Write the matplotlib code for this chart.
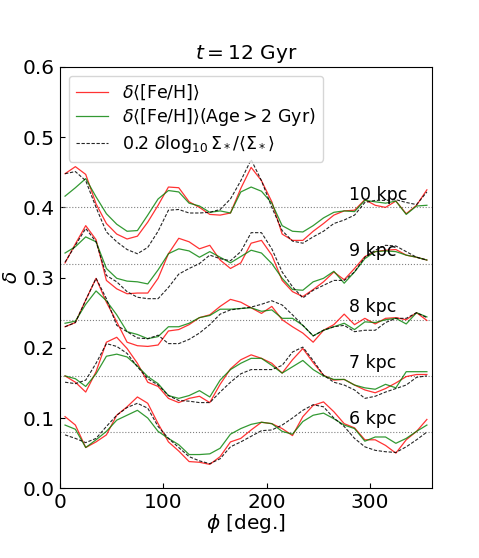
"""Azimuthal metallicity / surface density variations at several radii, t = 12 Gyr"""
import matplotlib
matplotlib.use('Agg')
import matplotlib.pyplot as plt
import numpy as np

# azimuth bin centres (deg.)
phi = np.arange(5, 360, 10)

# radii and their vertical offsets in the plot
radii = ['6 kpc', '7 kpc', '8 kpc', '9 kpc', '10 kpc']
offsets = [0.08, 0.16, 0.24, 0.32, 0.40]

# delta <[Fe/H]>, all stars (already offset)
feh_all = {
    '6 kpc': [0.102, 0.090, 0.058, 0.066, 0.076, 0.104, 0.116, 0.130, 0.121, 0.092, 0.066, 0.053,
              0.038, 0.037, 0.034, 0.045, 0.066, 0.071, 0.083, 0.094, 0.092, 0.085, 0.075, 0.102,
              0.118, 0.123, 0.109, 0.092, 0.086, 0.069, 0.069, 0.061, 0.050, 0.069, 0.081, 0.098],
    '7 kpc': [0.160, 0.151, 0.137, 0.166, 0.208, 0.215, 0.199, 0.178, 0.151, 0.145, 0.128, 0.122,
              0.128, 0.131, 0.122, 0.148, 0.170, 0.183, 0.190, 0.185, 0.178, 0.164, 0.183, 0.199,
              0.179, 0.161, 0.154, 0.155, 0.147, 0.140, 0.136, 0.142, 0.150, 0.159, 0.162, 0.162],
    '8 kpc': [0.230, 0.236, 0.268, 0.299, 0.265, 0.237, 0.208, 0.203, 0.202, 0.204, 0.224, 0.226,
              0.233, 0.243, 0.247, 0.259, 0.269, 0.265, 0.257, 0.249, 0.259, 0.240, 0.230, 0.221,
              0.208, 0.225, 0.233, 0.248, 0.233, 0.242, 0.234, 0.242, 0.243, 0.240, 0.250, 0.239],
    '9 kpc': [0.321, 0.348, 0.374, 0.354, 0.296, 0.284, 0.277, 0.278, 0.278, 0.299, 0.334, 0.356,
              0.351, 0.341, 0.346, 0.325, 0.313, 0.321, 0.349, 0.353, 0.332, 0.296, 0.280, 0.273,
              0.283, 0.294, 0.308, 0.297, 0.313, 0.330, 0.337, 0.339, 0.340, 0.332, 0.329, 0.325],
    '10 kpc': [0.448, 0.458, 0.447, 0.405, 0.377, 0.362, 0.355, 0.359, 0.379, 0.403, 0.429, 0.428,
               0.408, 0.400, 0.390, 0.389, 0.392, 0.427, 0.457, 0.438, 0.408, 0.362, 0.353, 0.353,
               0.366, 0.377, 0.389, 0.395, 0.396, 0.411, 0.403, 0.400, 0.409, 0.391, 0.403, 0.425],
}

# delta <[Fe/H]>, stars older than 2 Gyr
feh_old = {
    '6 kpc': [0.090, 0.084, 0.058, 0.069, 0.081, 0.097, 0.104, 0.111, 0.100, 0.081, 0.071, 0.062,
              0.048, 0.048, 0.049, 0.057, 0.077, 0.085, 0.091, 0.094, 0.092, 0.081, 0.077, 0.095,
              0.104, 0.107, 0.099, 0.090, 0.085, 0.067, 0.073, 0.073, 0.064, 0.071, 0.081, 0.090],
    '7 kpc': [0.160, 0.156, 0.145, 0.163, 0.188, 0.191, 0.187, 0.174, 0.159, 0.149, 0.132, 0.128,
              0.132, 0.139, 0.130, 0.154, 0.169, 0.178, 0.185, 0.185, 0.175, 0.164, 0.173, 0.182,
              0.169, 0.160, 0.155, 0.155, 0.147, 0.143, 0.141, 0.148, 0.143, 0.166, 0.166, 0.166],
    '8 kpc': [0.235, 0.238, 0.262, 0.281, 0.267, 0.247, 0.223, 0.219, 0.213, 0.216, 0.230, 0.230,
              0.235, 0.243, 0.246, 0.255, 0.255, 0.256, 0.257, 0.252, 0.254, 0.242, 0.242, 0.232,
              0.217, 0.225, 0.230, 0.235, 0.226, 0.237, 0.236, 0.240, 0.242, 0.234, 0.250, 0.244],
    '9 kpc': [0.335, 0.344, 0.358, 0.351, 0.313, 0.299, 0.295, 0.294, 0.291, 0.311, 0.334, 0.341,
              0.338, 0.329, 0.337, 0.329, 0.321, 0.330, 0.339, 0.335, 0.320, 0.299, 0.283, 0.282,
              0.294, 0.299, 0.309, 0.292, 0.308, 0.327, 0.337, 0.338, 0.337, 0.332, 0.329, 0.325],
    '10 kpc': [0.416, 0.428, 0.441, 0.415, 0.391, 0.376, 0.366, 0.367, 0.389, 0.412, 0.424, 0.422,
               0.406, 0.402, 0.393, 0.395, 0.392, 0.422, 0.429, 0.423, 0.406, 0.374, 0.366, 0.365,
               0.374, 0.385, 0.393, 0.395, 0.394, 0.410, 0.408, 0.406, 0.409, 0.390, 0.402, 0.403],
}

# 0.2 * delta log10 Sigma_* / <Sigma_*>
sigma = {
    '6 kpc': [0.076, 0.071, 0.065, 0.071, 0.088, 0.104, 0.115, 0.121, 0.114, 0.088, 0.071, 0.058,
              0.045, 0.039, 0.035, 0.042, 0.059, 0.066, 0.074, 0.082, 0.083, 0.090, 0.100, 0.111,
              0.119, 0.116, 0.100, 0.088, 0.071, 0.059, 0.054, 0.052, 0.051, 0.059, 0.069, 0.080],
    '7 kpc': [0.151, 0.149, 0.154, 0.178, 0.206, 0.202, 0.192, 0.173, 0.156, 0.147, 0.132, 0.125,
              0.124, 0.122, 0.122, 0.137, 0.151, 0.163, 0.169, 0.169, 0.169, 0.175, 0.194, 0.201,
              0.182, 0.161, 0.151, 0.147, 0.140, 0.128, 0.131, 0.137, 0.142, 0.147, 0.158, 0.160],
    '8 kpc': [0.230, 0.236, 0.268, 0.299, 0.270, 0.232, 0.223, 0.214, 0.213, 0.218, 0.206, 0.206,
              0.212, 0.221, 0.233, 0.248, 0.254, 0.256, 0.258, 0.262, 0.267, 0.261, 0.247, 0.232,
              0.217, 0.225, 0.230, 0.232, 0.223, 0.225, 0.225, 0.236, 0.242, 0.242, 0.250, 0.243],
    '9 kpc': [0.322, 0.346, 0.370, 0.351, 0.303, 0.294, 0.280, 0.272, 0.270, 0.270, 0.286, 0.305,
              0.313, 0.320, 0.332, 0.327, 0.324, 0.337, 0.364, 0.364, 0.341, 0.308, 0.287, 0.271,
              0.282, 0.289, 0.296, 0.296, 0.308, 0.329, 0.339, 0.346, 0.345, 0.337, 0.329, 0.325],
    '10 kpc': [0.448, 0.451, 0.438, 0.400, 0.365, 0.351, 0.340, 0.334, 0.343, 0.366, 0.396, 0.397,
               0.392, 0.392, 0.393, 0.397, 0.412, 0.438, 0.468, 0.438, 0.400, 0.367, 0.352, 0.349,
               0.358, 0.366, 0.377, 0.382, 0.389, 0.407, 0.410, 0.410, 0.411, 0.407, 0.404, 0.422],
}

fig = plt.figure(figsize=(4.79, 5.58), dpi=100)
ax = fig.add_axes([0.125, 0.125, 0.777, 0.755])

for k, (r, off) in enumerate(zip(radii, offsets)):
    ax.axhline(off, color='gray', linestyle=':', linewidth=0.8)
    ax.plot(phi, feh_all[r], color='red', alpha=0.8, linewidth=0.9,
            label=r'$\delta\langle[{\rm Fe/H}]\rangle$' if k == 0 else None)
    ax.plot(phi, feh_old[r], color='green', alpha=0.8, linewidth=0.9,
            label=r'$\delta\langle[{\rm Fe/H}]\rangle({\rm Age}>2\ {\rm Gyr})$' if k == 0 else None)
    ax.plot(phi, sigma[r], color='k', linestyle='--', linewidth=0.8, dashes=(3, 1.5), alpha=0.85,
            label=r'$0.2\ \delta\log_{10}\Sigma_*/\langle\Sigma_*\rangle$' if k == 0 else None)
    ax.text(280, off + 0.011, r, fontsize=12.5)

ax.set_xlim(0, 360)
ax.set_ylim(0.0, 0.6)
ax.set_xticks([0, 100, 200, 300])
ax.tick_params(direction='in', labelsize=14.5)
ax.set_xlabel(r'$\phi$ [deg.]', fontsize=14.5, labelpad=0)
ax.set_ylabel(r'$\delta$', fontsize=14.5, labelpad=1)
ax.set_title(r'$t = 12$ Gyr', fontsize=14.5)
ax.legend(loc='upper left', fontsize=12.5, labelspacing=0.25, handlelength=1.9,
          borderpad=0.4)

plt.savefig('out.png', dpi=100)
